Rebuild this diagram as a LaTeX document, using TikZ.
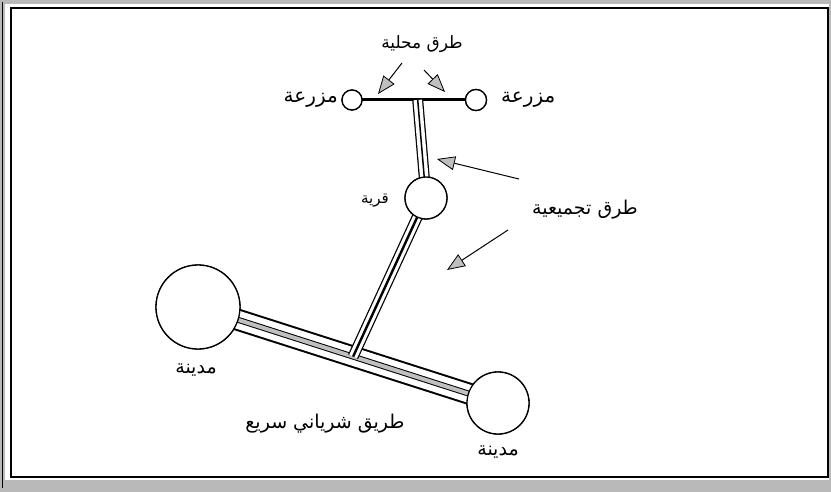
\documentclass[tikz,border=0pt]{standalone}
\usepackage{fontspec}
\usetikzlibrary{arrows.meta,calc}
\TeXXeTstate=1
\newfontfamily\arabicfont[Script=Arabic]{DejaVu Sans}
\begin{document}
\begin{tikzpicture}[x=1pt,y=-1pt,
  place/.style={circle,draw=black,line width=1.3pt,fill=white,inner sep=0pt},
  lbl/.style={font=\arabicfont\fontsize{19}{22}\selectfont,inner sep=1pt},
  pointer/.style={line width=1pt,-{Triangle[length=18pt,width=14pt,fill=gray!50,line width=0.8pt]}},
]
\useasboundingbox (0,0) rectangle (831,492);
% frame
\fill[gray!55] (0,0) rectangle (831,492);
\fill[white] (5,4) rectangle (829,480);
\draw[line width=1.2pt] (2.5,2) -- (2.5,488);
\draw[line width=2pt] (11,8) rectangle (828,477);
% places
\node[place,minimum size=20pt] (farmL) at (352,100) {};
\node[place,minimum size=21pt] (farmR) at (476,100) {};
\node[place,minimum size=42pt] (village) at (426,198) {};
\node[place,minimum size=84pt] (cityL) at (198,307) {};
\node[place,minimum size=62pt] (cityR) at (498,403) {};
\coordinate (j1) at ($(farmL)!0.53!(farmR)$);
\coordinate (j2) at ($(cityL)!0.517!(cityR)$);
% arterial
\draw[line width=22pt] (cityL.center) -- (cityR.center);
\draw[white,line width=18pt] (cityL.center) -- (cityR.center);
\draw[line width=6pt] (cityL.center) -- (cityR.center);
\draw[gray!50,line width=4pt] (cityL.center) -- (cityR.center);
% collector village -> arterial
\draw[line width=11pt] (village.center) -- (j2);
\draw[white,line width=8.5pt] (village.center) -- (j2);
\draw[line width=2.4pt] (village.center) -- (j2);
% local road
\draw[line width=3pt] (farmL.center) -- (farmR.center);
% collector farm road -> village
\draw[line width=11pt] (j1) -- (village.center);
\draw[white,line width=8.5pt] (j1) -- (village.center);
\draw[line width=1.5pt] (j1) -- (village.center);
% redraw circles on top
\node[place,minimum size=20pt] at (farmL) {};
\node[place,minimum size=21pt] at (farmR) {};
\node[place,minimum size=42pt] at (village) {};
\node[place,minimum size=84pt] at (cityL) {};
\node[place,minimum size=62pt] at (cityR) {};
% labels
\node[lbl,font=\arabicfont\fontsize{17}{20}\selectfont] (tlocal) at (422,44) {\beginR طرق محلية\endR};
\node[lbl,anchor=east,font=\arabicfont\fontsize{20}{23}\selectfont] (tfarmL) at (339,100) {\beginR مزرعة\endR};
\node[lbl,anchor=west,font=\arabicfont\fontsize{20}{23}\selectfont] (tfarmR) at (500,100) {\beginR مزرعة\endR};
\node[lbl,font=\arabicfont\fontsize{15}{18}\selectfont] (tvillage) at (375,201) {\beginR قرية\endR};
\node[lbl] (tcoll) at (585,210) {\beginR طرق تجميعية\endR};
\node[lbl] (tcityL) at (196,370) {\beginR مدينة\endR};
\node[lbl] (tcityR) at (498,452) {\beginR مدينة\endR};
\node[lbl] (tart) at (325,424) {\beginR طريق شرياني سريع\endR};
% pointers
\coordinate (a1s) at (402,63); \coordinate (a1e) at (378,94);
\coordinate (a2s) at (424,70); \coordinate (a2e) at (445,92);
\coordinate (a3s) at (519,179); \coordinate (a3e) at (437,159);
\coordinate (a4s) at (508,230); \coordinate (a4e) at (447,270);
\draw[pointer] (a1s) -- (a1e);
\draw[pointer] (a2s) -- (a2e);
\draw[pointer] (a3s) -- (a3e);
\draw[pointer] (a4s) -- (a4e);
\end{tikzpicture}
\end{document}
